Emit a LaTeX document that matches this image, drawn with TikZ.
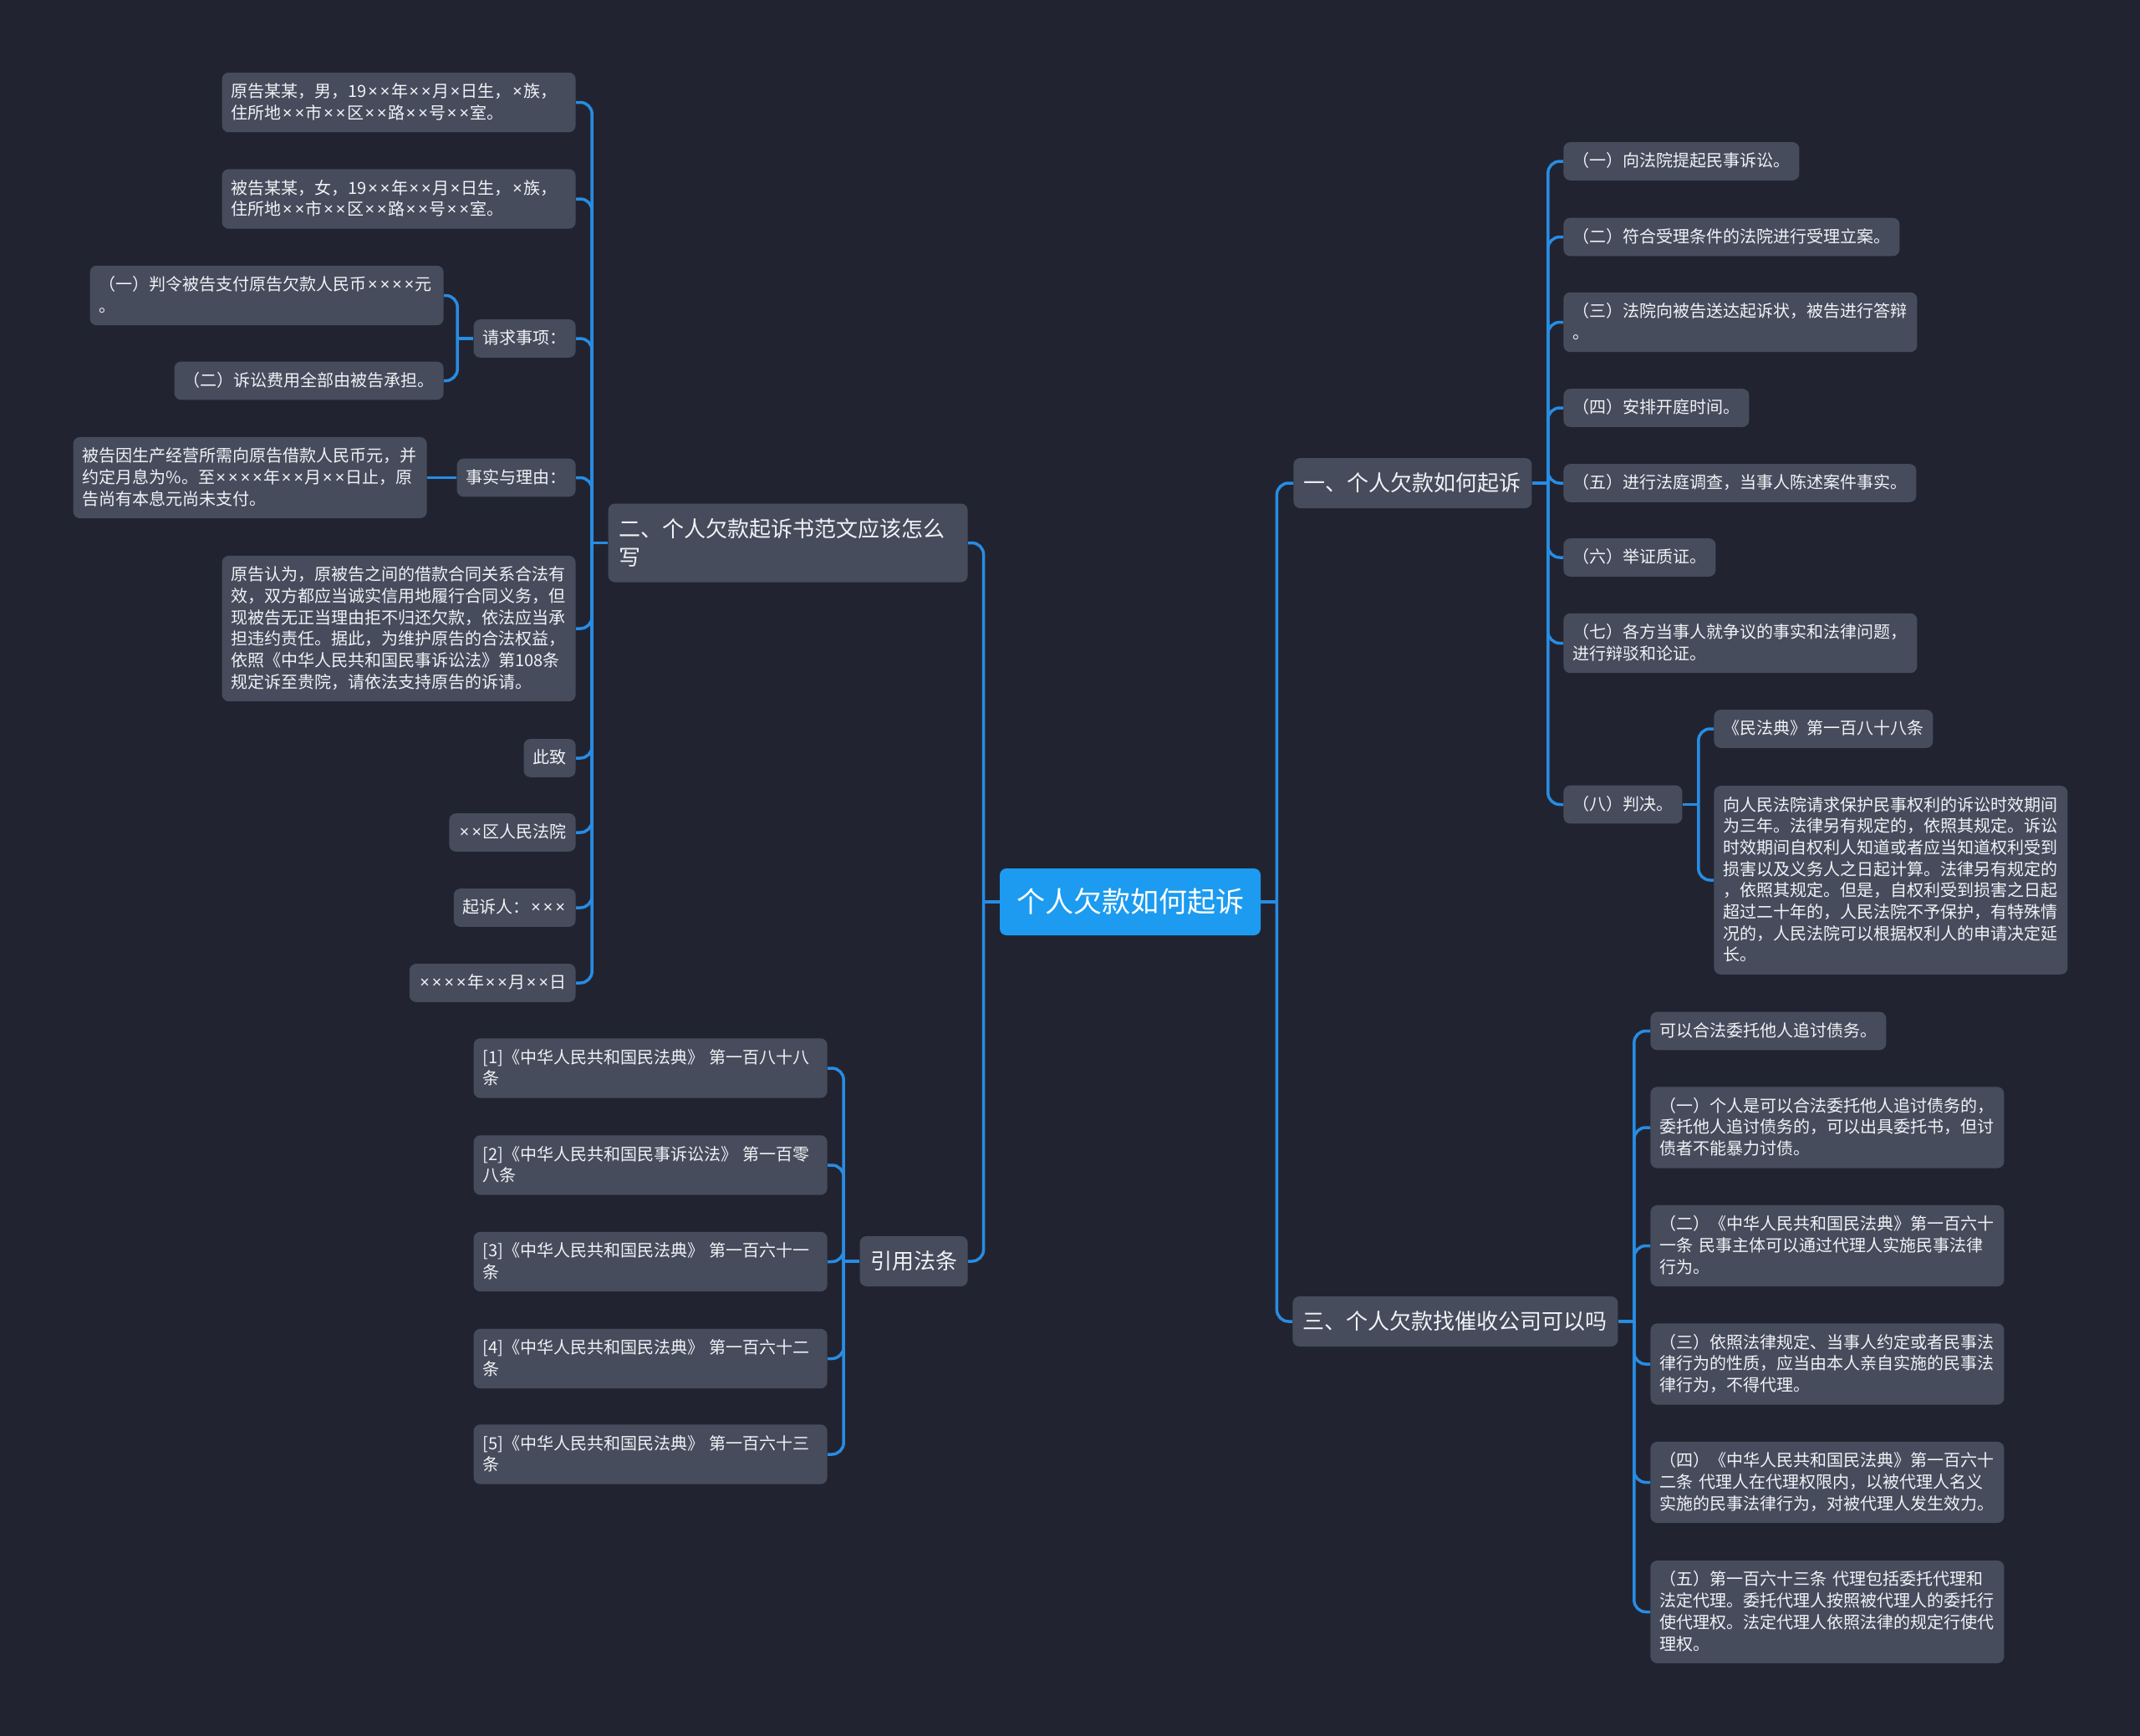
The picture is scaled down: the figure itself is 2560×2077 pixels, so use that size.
\documentclass[tikz,border=0pt]{standalone}
\usepackage{fontspec}
\setmainfont{Noto Sans CJK SC}
\newfontfamily\latinfont{Noto Sans}
\usetikzlibrary{calc}
\definecolor{bgdark}{RGB}{33,36,48}
\definecolor{nodegrey}{RGB}{70,76,92}
\definecolor{linkblue}{RGB}{40,140,228}
\definecolor{rootblue}{RGB}{28,155,240}
\definecolor{textwhite}{RGB}{240,242,246}
\newcommand{\mulx}{\makebox[0.73em]{\latinfont ×}}
\newcommand{\leafstrut}{\rule[-2.95pt]{0pt}{12.85pt}}
\newcommand{\topicstrut}{\rule[-3.6pt]{0pt}{17pt}}

\begin{document}
\begin{tikzpicture}[x=0.5pt, y=-0.5pt,
                rootnode/.style={rectangle, rounded corners=4pt, fill=rootblue, text=white, font=\fontsize{17}{22}\selectfont, inner xsep=10pt, minimum height=40pt},
                topicnode/.style={rectangle, rounded corners=4pt, fill=nodegrey, text=textwhite, font=\fontsize{13}{17}\selectfont, align=left, inner xsep=6.25pt, inner ysep=6.5pt, execute at begin node=\topicstrut, execute at end node=\topicstrut},
                leafnode/.style={rectangle, rounded corners=4pt, fill=nodegrey, text=textwhite, font=\fontsize{10}{12.85}\selectfont, align=left, inner xsep=5.5pt, inner ysep=5pt, execute at begin node=\leafstrut, execute at end node=\leafstrut},
                longleafnode/.style={leafnode, text width=200.5pt},
                link/.style={draw=linkblue, line width=1.75pt, rounded corners=7pt},
                ]
                \fill[bgdark] (0,0) rectangle (2560,2077);
                \useasboundingbox (0,0) rectangle (2560,2077);

                \node[rootnode] (R) at (1352,1079) {个人欠款如何起诉};

                \node[topicnode, anchor=west] (A) at (1547,578) {一、个人欠款如何起诉};
                \node[leafnode, anchor=west] (A1) at (1870,193) {（一）向法院提起民事诉讼。};
                \node[leafnode, anchor=west] (A2) at (1870,283.5) {（二）符合受理条件的法院进行受理立案。};
                \node[longleafnode, anchor=west] (A3) at (1870,385.5) {（三）法院向被告送达起诉状，被告进行答辩\\。};
                \node[leafnode, anchor=west] (A4) at (1870,488) {（四）安排开庭时间。};
                \node[leafnode, anchor=west] (A5) at (1870,578) {（五）进行法庭调查，当事人陈述案件事实。};
                \node[leafnode, anchor=west] (A6) at (1870,667) {（六）举证质证。};
                \node[longleafnode, anchor=west] (A7) at (1870,769.5) {（七）各方当事人就争议的事实和法律问题，\\进行辩驳和论证。};
                \node[leafnode, anchor=west] (A8) at (1870,962.5) {（八）判决。};
                \node[leafnode, anchor=west] (A81) at (2050,872) {《民法典》第一百八十八条};
                \node[longleafnode, anchor=west] (A82) at (2050,1053) {向人民法院请求保护民事权利的诉讼时效期间\\为三年。法律另有规定的，依照其规定。诉讼\\时效期间自权利人知道或者应当知道权利受到\\损害以及义务人之日起计算。法律另有规定的\\，依照其规定。但是，自权利受到损害之日起\\超过二十年的，人民法院不予保护，有特殊情\\况的，人民法院可以根据权利人的申请决定延\\长。};

                \node[topicnode, text width=202.5pt, anchor=east] (B) at (1158,649.5) {二、个人欠款起诉书范文应该怎么\\写};
                \node[longleafnode, anchor=east] (B1) at (689,122.5) {原告某某，男，19\mulx\mulx 年\mulx\mulx 月\mulx 日生，\mulx 族，\\住所地\mulx\mulx 市\mulx\mulx 区\mulx\mulx 路\mulx\mulx 号\mulx\mulx 室。};
                \node[longleafnode, anchor=east] (B2) at (689,238) {被告某某，女，19\mulx\mulx 年\mulx\mulx 月\mulx 日生，\mulx 族，\\住所地\mulx\mulx 市\mulx\mulx 区\mulx\mulx 路\mulx\mulx 号\mulx\mulx 室。};
                \node[leafnode, anchor=east] (B3) at (689,405) {请求事项：};
                \node[longleafnode, anchor=east] (B31) at (531,353.5) {（一）判令被告支付原告欠款人民币\mulx\mulx\mulx\mulx 元\\。};
                \node[leafnode, anchor=east] (B32) at (531,455.5) {（二）诉讼费用全部由被告承担。};
                \node[leafnode, anchor=east] (B4) at (689,571.5) {事实与理由：};
                \node[longleafnode, anchor=east] (B41) at (511,571.5) {被告因生产经营所需向原告借款人民币元，并\\约定月息为\%。至\mulx\mulx\mulx\mulx 年\mulx\mulx 月\mulx\mulx 日止，原\\告尚有本息元尚未支付。};
                \node[longleafnode, anchor=east] (B5) at (689,752) {原告认为，原被告之间的借款合同关系合法有\\效，双方都应当诚实信用地履行合同义务，但\\现被告无正当理由拒不归还欠款，依法应当承\\担违约责任。据此，为维护原告的合法权益，\\依照《中华人民共和国民事诉讼法》第108条\\规定诉至贵院，请依法支持原告的诉请。};
                \node[leafnode, anchor=east] (B6) at (689,907) {此致};
                \node[leafnode, anchor=east] (B7) at (689,996) {\mulx\mulx 区人民法院};
                \node[leafnode, anchor=east] (B8) at (689,1086) {起诉人：\mulx\mulx\mulx};
                \node[leafnode, anchor=east] (B9) at (689,1176) {\mulx\mulx\mulx\mulx 年\mulx\mulx 月\mulx\mulx 日};

                \node[topicnode, anchor=west] (C) at (1546,1581) {三、个人欠款找催收公司可以吗};
                \node[leafnode, anchor=west] (C1) at (1974,1233.5) {可以合法委托他人追讨债务。};
                \node[longleafnode, anchor=west] (C2) at (1974,1349) {（一）个人是可以合法委托他人追讨债务的，\\委托他人追讨债务的，可以出具委托书，但讨\\债者不能暴力讨债。};
                \node[longleafnode, anchor=west] (C3) at (1974,1490.5) {（二）《中华人民共和国民法典》第一百六十\\一条 民事主体可以通过代理人实施民事法律\\行为。};
                \node[longleafnode, anchor=west] (C4) at (1974,1632) {（三）依照法律规定、当事人约定或者民事法\\律行为的性质，应当由本人亲自实施的民事法\\律行为，不得代理。};
                \node[longleafnode, anchor=west] (C5) at (1974,1773.5) {（四）《中华人民共和国民法典》第一百六十\\二条 代理人在代理权限内，以被代理人名义\\实施的民事法律行为，对被代理人发生效力。};
                \node[longleafnode, anchor=west] (C6) at (1974,1928.5) {（五）第一百六十三条 代理包括委托代理和\\法定代理。委托代理人按照被代理人的委托行\\使代理权。法定代理人依照法律的规定行使代\\理权。};

                \node[topicnode, anchor=east] (D) at (1158,1509) {引用法条};
                \node[longleafnode, anchor=east] (D1) at (990,1278) {[1]《中华人民共和国民法典》 第一百八十八\\条};
                \node[longleafnode, anchor=east] (D2) at (990,1394) {[2]《中华人民共和国民事诉讼法》 第一百零\\八条};
                \node[longleafnode, anchor=east] (D3) at (990,1509.5) {[3]《中华人民共和国民法典》 第一百六十一\\条};
                \node[longleafnode, anchor=east] (D4) at (990,1625.5) {[4]《中华人民共和国民法典》 第一百六十二\\条};
                \node[longleafnode, anchor=east] (D5) at (990,1740) {[5]《中华人民共和国民法典》 第一百六十三\\条};

                \coordinate (jR) at ($(R.east)+(19,0)$);
                \coordinate (jL) at ($(R.west)+(-19,0)$);
                \coordinate (jA) at ($(A.east)+(19,0)$);
                \coordinate (jA8) at ($(A8.east)+(19,0)$);
                \coordinate (jB) at ($(B.west)+(-19,0)$);
                \coordinate (jB3) at ($(B3.west)+(-19,0)$);
                \coordinate (jC) at ($(C.east)+(19,0)$);
                \coordinate (jD) at ($(D.west)+(-19,0)$);

                \draw[link] (R.east) -- (jR);
                \draw[link] (jR) |- (A.west);
                \draw[link] (jR) |- (C.west);
                \draw[link] (R.west) -- (jL);
                \draw[link] (jL) |- (B.east);
                \draw[link] (jL) |- (D.east);

                \draw[link] (A.east) -- (jA);
                \draw[link] (jA) |- (A1.west);
                \draw[link] (jA) |- (A2.west);
                \draw[link] (jA) |- (A3.west);
                \draw[link] (jA) |- (A4.west);
                \draw[link] (jA) |- (A5.west);
                \draw[link] (jA) |- (A6.west);
                \draw[link] (jA) |- (A7.west);
                \draw[link] (jA) |- (A8.west);
                \draw[link] (A8.east) -- (jA8);
                \draw[link] (jA8) |- (A81.west);
                \draw[link] (jA8) |- (A82.west);

                \draw[link] (B.west) -- (jB);
                \draw[link] (jB) |- (B1.east);
                \draw[link] (jB) |- (B2.east);
                \draw[link] (jB) |- (B3.east);
                \draw[link] (jB) |- (B4.east);
                \draw[link] (jB) |- (B5.east);
                \draw[link] (jB) |- (B6.east);
                \draw[link] (jB) |- (B7.east);
                \draw[link] (jB) |- (B8.east);
                \draw[link] (jB) |- (B9.east);
                \draw[link] (B3.west) -- (jB3);
                \draw[link] (jB3) |- (B31.east);
                \draw[link] (jB3) |- (B32.east);
                \draw[link] (B4.west) -- (B41.east);

                \draw[link] (C.east) -- (jC);
                \draw[link] (jC) |- (C1.west);
                \draw[link] (jC) |- (C2.west);
                \draw[link] (jC) |- (C3.west);
                \draw[link] (jC) |- (C4.west);
                \draw[link] (jC) |- (C5.west);
                \draw[link] (jC) |- (C6.west);

                \draw[link] (D.west) -- (jD);
                \draw[link] (jD) |- (D1.east);
                \draw[link] (jD) |- (D2.east);
                \draw[link] (jD) |- (D3.east);
                \draw[link] (jD) |- (D4.east);
                \draw[link] (jD) |- (D5.east);
            \end{tikzpicture}
\end{document}
